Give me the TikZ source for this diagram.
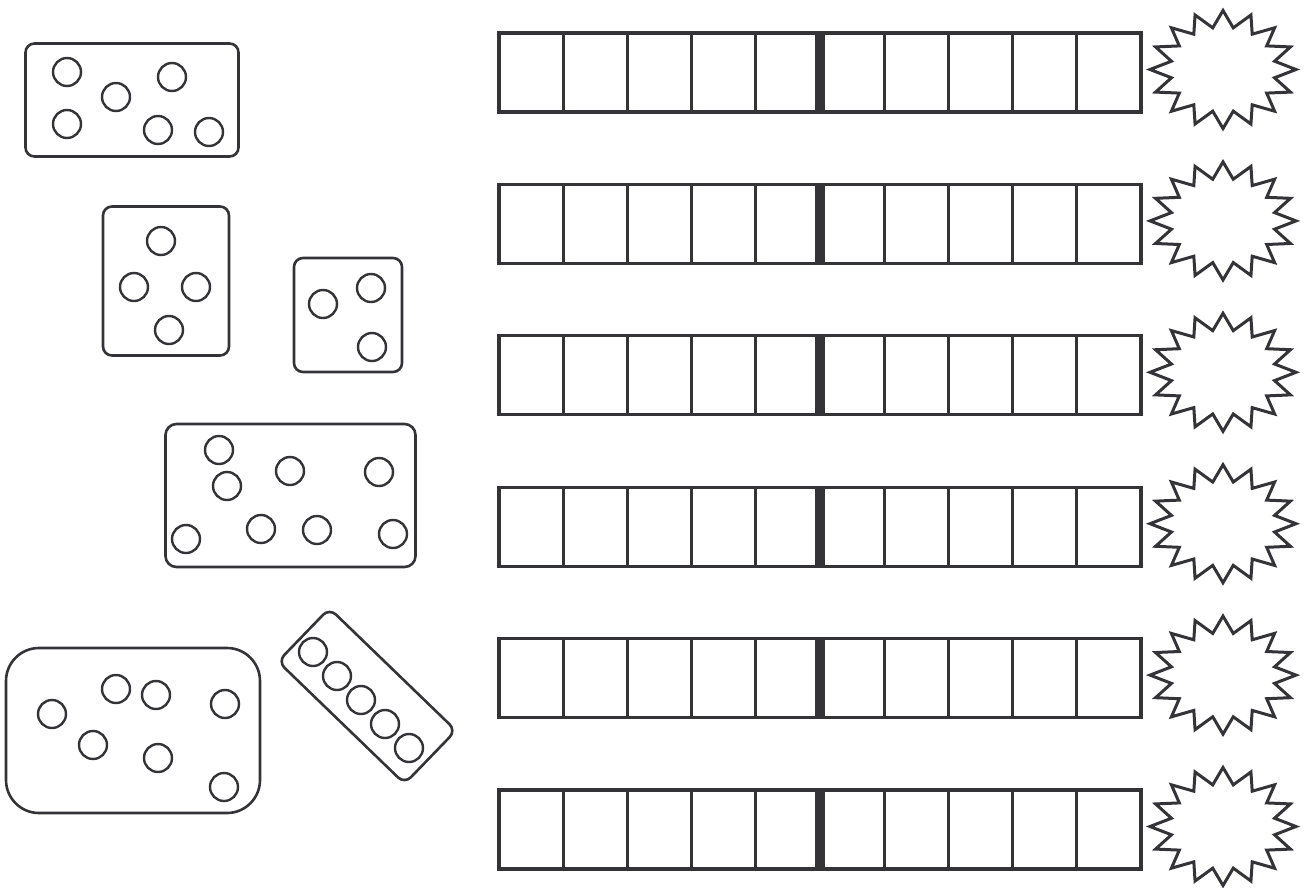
\documentclass[tikz,border=0pt]{standalone}
\usetikzlibrary{positioning}

\definecolor{inkgray}{RGB}{52,51,56}

\begin{document}
\begin{tikzpicture}[
    x=1pt, y=-1pt,
    card/.style={
        rectangle,
        draw=inkgray,
        line width=2.6pt,
        rounded corners=9pt,
        inner sep=0pt
    },
    dot/.style={
        circle,
        draw=inkgray,
        line width=2.4pt,
        minimum size=28pt,
        inner sep=0pt
    },
    frameline/.style={
        draw=inkgray,
        line width=3.3pt
    },
    midline/.style={
        draw=inkgray,
        line width=10.5pt
    },
    burst/.style={
        draw=inkgray,
        line width=3pt,
        line join=miter
    }
]

    \useasboundingbox (0,0) rectangle (1310,887);

    % Card 1 (six)
    \node[card, minimum width=213pt, minimum height=113pt] (card1) at (132,100) {};
    \foreach \px/\py [count=\i] in {67/72, 116/97, 172/77, 67/124, 158/130, 209/132}
        \node[dot] (card1_d\i) at (\px,\py) {};

    % Card 2 (four)
    \node[card, minimum width=126pt, minimum height=149pt] (card2) at (166,281) {};
    \foreach \px/\py [count=\i] in {161/241, 134/287, 196/287, 169/330}
        \node[dot] (card2_d\i) at (\px,\py) {};

    % Card 3 (three)
    \node[card, minimum width=108pt, minimum height=114pt] (card3) at (348,315) {};
    \foreach \px/\py [count=\i] in {323/304, 371/288, 372/347}
        \node[dot] (card3_d\i) at (\px,\py) {};

    % Card 4 (eight)
    \node[card, minimum width=250pt, minimum height=143pt, rounded corners=11pt] (card4) at (290.5,495.5) {};
    \foreach \px/\py [count=\i] in {219/450, 227/486, 290/471, 379/472, 186/539, 261/529, 317/530, 393/534}
        \node[dot] (card4_d\i) at (\px,\py) {};

    % Card 5 (seven)
    \node[card, minimum width=254pt, minimum height=165pt, rounded corners=33pt] (card5) at (133,730.5) {};
    \foreach \px/\py [count=\i] in {52/714, 116/689, 156/695, 225/704, 93/745, 158/758, 224/787}
        \node[dot] (card5_d\i) at (\px,\py) {};

    % Card 6 (five, tilted)
    \node[card, minimum width=176pt, minimum height=74pt, rotate=-44] (card6) at (367,696) {};
    \foreach \i in {1,...,5}
        \node[dot] (card6_d\i) at (289+24*\i, 628+24*\i) {};

    % Ten frames and bursts
    \foreach \r in {0,...,5}{
        \pgfmathsetmacro{\rowtop}{33+151.4*\r}
        \pgfmathsetmacro{\rowbot}{\rowtop+79}
        \pgfmathsetmacro{\burstmid}{\rowtop+36.5}
        \coordinate (tf\r_nw) at (499,\rowtop);
        \coordinate (tf\r_se) at (1141,\rowbot);
        \draw[frameline] (tf\r_nw) rectangle (tf\r_se);
        \foreach \k in {1,2,3,4,6,7,8,9}
            \draw[frameline] (499+64.2*\k,\rowtop) -- (499+64.2*\k,\rowbot);
        \draw[midline] (820,\rowtop) -- (820,\rowbot);
        % burst
        \coordinate (burst\r) at (1223,\burstmid);
        \draw[burst, shift={(burst\r)}]
            plot[samples at={0,...,31}]
            ({73*cos(\x*11.25)*(mod(\x,2)==0 ? 1 : 0.72)},
             {59*sin(\x*11.25)*(mod(\x,2)==0 ? 1 : 0.72)}) -- cycle;
    }

\end{tikzpicture}
\end{document}
